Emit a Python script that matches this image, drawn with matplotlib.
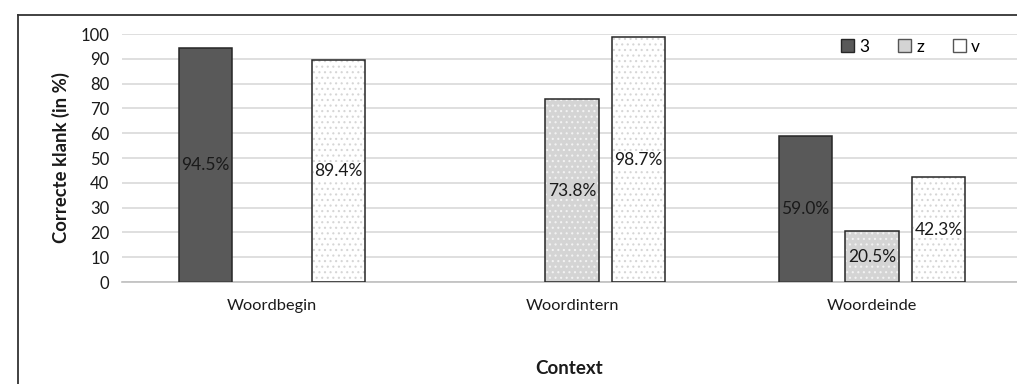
import numpy as np
import matplotlib.pyplot as plt
from matplotlib.lines import Line2D
from matplotlib.patches import Patch

plt.rcParams['font.family'] = ['Lato', 'DejaVu Sans']
plt.rcParams['hatch.linewidth'] = 0.8

# correct sound per position in the word (%)
contexts = ["Woordbegin", "Woordintern", "Woordeinde"]
sounds = ["3", "z", "v"]
val_3 = [94.5, np.nan, 59.0]
val_z = [np.nan, 73.8, 20.5]
val_v = [89.4, 98.7, 42.3]

fills = {"3": "#595959", "z": "#d4d4d4", "v": "#ffffff"}
dots = {"3": None, "z": "#f2f2f2", "v": "#d6d6d6"}

fig = plt.figure(figsize=(10.17, 3.84), dpi=100)
ax = fig.add_axes([122 / 1017, 0.2656, 900 / 1017, 0.6458])

x = np.arange(len(contexts))
width = 0.177
offsets = [-0.222, 0.0, 0.222]

for s, vals, off in zip(sounds, [val_3, val_z, val_v], offsets):
    for xi, v in zip(x, vals):
        if np.isnan(v):
            continue
        # fill + dot pattern first, then the black outline on top
        if dots[s]:
            ax.bar(xi + off, v, width, color=fills[s], edgecolor=dots[s],
                   hatch="...", linewidth=0, zorder=2)
        else:
            ax.bar(xi + off, v, width, color=fills[s], linewidth=0, zorder=2)
        ax.bar(xi + off, v, width, fill=False, edgecolor="#262626",
               linewidth=1.1, zorder=3)
        ax.text(xi + off, v / 2, f"{v:.1f}%", ha="center", va="center",
                fontsize=12.5, color="#1a1a1a", zorder=4,
                bbox=dict(boxstyle="square,pad=0.05", fc=fills[s], ec="none"))

ax.set_xlim(-0.5, 2.5)
ax.set_ylim(0, 100)
ax.set_yticks(range(0, 101, 10))
ax.set_xticks(x)
ax.set_xticklabels(contexts)
ax.tick_params(length=0, labelsize=12, colors="#1a1a1a")
ax.tick_params(axis="x", pad=12, labelsize=11.8)
ax.tick_params(axis="y", pad=9)
ax.grid(axis="y", color="#d9d9d9", linewidth=1.2, zorder=0)
ax.set_axisbelow(True)
for side in ["top", "right", "left"]:
    ax.spines[side].set_visible(False)
ax.spines["bottom"].set_color("#bfbfbf")
ax.spines["bottom"].set_linewidth(1.2)

ax.set_ylabel("Correcte klank (in %)", fontsize=13.3, fontweight="bold",
              color="#1a1a1a", labelpad=8)
fig.text(569 / 1017, 1 - 369 / 384, "Context", ha="center", va="center",
         fontsize=13.5, fontweight="bold", color="#1a1a1a")

handles = [Patch(facecolor=fills["3"], edgecolor="#262626"),
           Patch(facecolor=fills["z"], edgecolor="#555555"),
           Patch(facecolor=fills["v"], edgecolor="#555555")]
leg = ax.legend(handles, sounds, loc="upper right", ncol=3, frameon=True,
                framealpha=1, edgecolor="none", fontsize=12.5,
                bbox_to_anchor=(0.967, 1.03), handlelength=0.75,
                handleheight=0.75, handletextpad=0.3, columnspacing=1.65,
                borderpad=0.2)

# frame lines around the chart area
fig.add_artist(Line2D([18 / 1017, 18 / 1017], [0, 1 - 15 / 384],
                      transform=fig.transFigure, color="#333333", lw=1.3))
fig.add_artist(Line2D([18 / 1017, 1], [1 - 15 / 384, 1 - 15 / 384],
                      transform=fig.transFigure, color="#333333", lw=1.3))

fig.savefig("out.png", dpi=100)
